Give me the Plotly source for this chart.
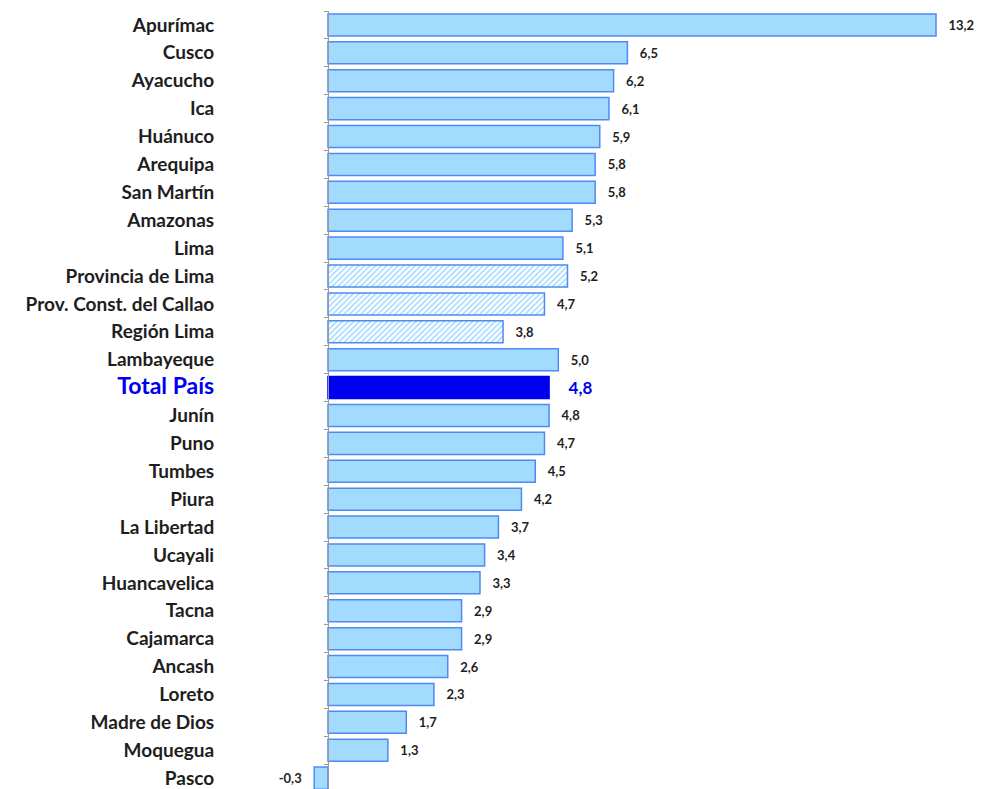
import plotly.graph_objects as go

categories = ["Apurímac", "Cusco", "Ayacucho", "Ica", "Huánuco", "Arequipa", "San Martín",
              "Amazonas", "Lima", "Provincia de Lima", "Prov. Const. del Callao", "Región Lima",
              "Lambayeque", "Total País", "Junín", "Puno", "Tumbes", "Piura", "La Libertad",
              "Ucayali", "Huancavelica", "Tacna", "Cajamarca", "Ancash", "Loreto",
              "Madre de Dios", "Moquegua", "Pasco"]
values = [13.2, 6.5, 6.2, 6.1, 5.9, 5.8, 5.8, 5.3, 5.1, 5.2, 4.7, 3.8, 5.0, 4.8, 4.8, 4.7,
          4.5, 4.2, 3.7, 3.4, 3.3, 2.9, 2.9, 2.6, 2.3, 1.7, 1.3, -0.3]
hatched = ["Provincia de Lima", "Prov. Const. del Callao", "Región Lima"]
total = "Total País"

LIGHT = "#a3dbff"
EDGE = "#4d8af5"
DARK = "#0000f0"

fill = [DARK if c == total else LIGHT for c in categories]
edge = [DARK if c == total else EDGE for c in categories]
shapes = ["/" if c in hatched else "" for c in categories]
bgcols = ["#f4fbff" if c in hatched else c2 for c, c2 in zip(categories, fill)]
fgcols = ["#8ccaf7" if c in hatched else c2 for c, c2 in zip(categories, fill)]

SP = "\u00a0\u00a0\u00a0"

def fmt(v, c):
    s = f"{v:.1f}".replace(".", ",")
    if v < 0:
        return s + SP
    return ("\u00a0\u00a0\u00a0\u00a0" if c == total else SP) + s

texts = [fmt(v, c) for v, c in zip(values, categories)]
tcolors = [DARK if c == total else "#1e1e1e" for c in categories]
tsizes = [17 if c == total else 13 for c in categories]

ticktext = [f"<span style='color:{DARK};font-size:23px'>{c}</span>" if c == total else c
            for c in categories]

fig = go.Figure(go.Bar(
    x=values, y=categories, orientation="h",
    marker=dict(color=fill, line=dict(color=edge, width=1.5),
                pattern=dict(shape=shapes, fillmode="replace", bgcolor=bgcols,
                             fgcolor=fgcols, size=4, solidity=0.4)),
    width=0.79,
    text=texts, textposition="outside", cliponaxis=False,
    textfont=dict(family="Lato", size=tsizes, color=tcolors, weight="bold"),
))

fig.update_layout(
    template="none",
    width=976, height=781,
    margin=dict(l=0, r=0, t=3, b=0, autoexpand=False),
    paper_bgcolor="white", plot_bgcolor="white",
    showlegend=False,
    xaxis=dict(range=[-6.947, 14.242], visible=False, showgrid=False, zeroline=False,
               automargin=False),
    yaxis=dict(type="category", range=[27.39, -0.5], anchor="free", position=320 / 976,
               showline=True, linecolor="#9a9a9a", linewidth=1,
               ticks="outside", tickson="boundaries", ticklen=4, tickcolor="#9a9a9a",
               tickvals=categories, ticktext=ticktext, ticklabelstandoff=110,
               tickfont=dict(family="Lato", size=19, color="#1e1e1e", weight="bold"),
               showgrid=False, zeroline=False, automargin=False),
)

fig.write_html("out.html")
